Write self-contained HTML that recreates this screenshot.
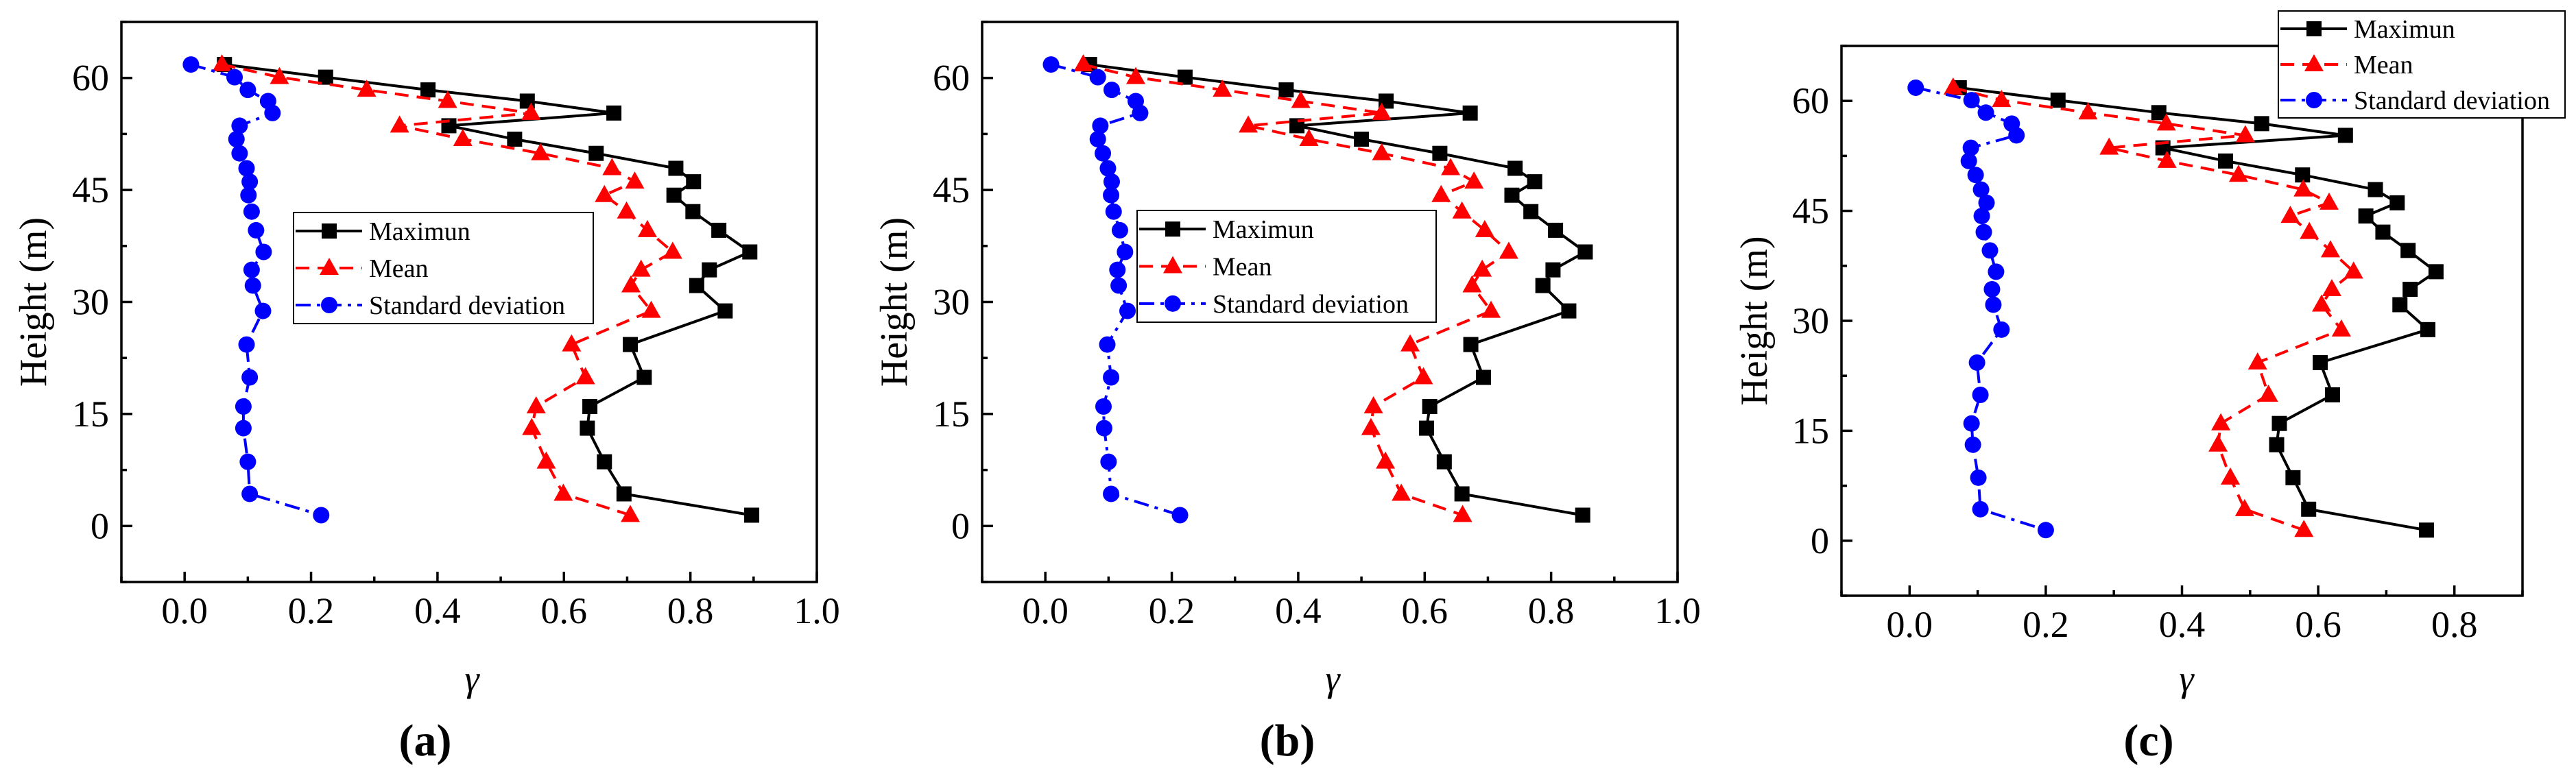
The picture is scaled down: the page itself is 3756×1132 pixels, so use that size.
<!DOCTYPE html>
<html>
<head>
<meta charset="utf-8">
<style>
html,body{margin:0;padding:0;background:#fff;}
svg{display:block;}
svg text{font-family:"Liberation Serif","Noto Serif CJK SC","DejaVu Serif",serif;}
</style>
</head>
<body>
<svg id="fig" width="3756" height="1132" viewBox="0 0 3756 1132" xmlns="http://www.w3.org/2000/svg"></svg>
<script>
const heights = [61.8,60.1,58.4,56.9,55.3,53.6,51.8,49.9,47.9,46.1,44.3,42.1,39.6,36.7,34.3,32.2,28.8,24.3,19.9,16.0,13.1,8.6,4.3,1.45];
const maxA = [0.063,0.223,0.385,0.542,0.679,0.418,0.522,0.651,0.777,0.805,0.774,0.804,0.845,0.894,0.830,0.810,0.855,0.705,0.727,0.641,0.637,0.664,0.695,0.897];
const meanA = [0.059,0.150,0.288,0.416,0.548,0.340,0.440,0.563,0.676,0.712,0.664,0.699,0.732,0.772,0.722,0.706,0.738,0.612,0.634,0.556,0.549,0.572,0.599,0.705];
const stdA = [0.010,0.079,0.100,0.132,0.139,0.087,0.082,0.087,0.098,0.103,0.101,0.106,0.113,0.125,0.106,0.108,0.124,0.098,0.103,0.093,0.093,0.100,0.103,0.216];
const maxB = [0.070,0.221,0.381,0.539,0.672,0.398,0.500,0.624,0.743,0.774,0.738,0.768,0.807,0.854,0.803,0.787,0.828,0.673,0.693,0.608,0.603,0.631,0.659,0.850];
const meanB = [0.060,0.143,0.280,0.404,0.532,0.321,0.417,0.532,0.641,0.678,0.626,0.659,0.695,0.733,0.691,0.675,0.705,0.577,0.598,0.519,0.515,0.538,0.563,0.660];
const stdB = [0.009,0.083,0.105,0.143,0.150,0.087,0.083,0.091,0.099,0.105,0.104,0.108,0.118,0.126,0.114,0.116,0.130,0.098,0.104,0.092,0.093,0.100,0.104,0.213];
const maxC = [0.073,0.218,0.366,0.517,0.640,0.372,0.464,0.577,0.684,0.716,0.670,0.695,0.732,0.773,0.735,0.720,0.761,0.603,0.621,0.543,0.539,0.563,0.586,0.759];
const meanC = [0.064,0.135,0.262,0.377,0.493,0.293,0.378,0.483,0.578,0.616,0.559,0.587,0.618,0.652,0.620,0.605,0.634,0.511,0.527,0.457,0.453,0.471,0.492,0.579];
const stdC = [0.009,0.091,0.112,0.150,0.157,0.090,0.087,0.097,0.105,0.113,0.106,0.109,0.118,0.127,0.121,0.123,0.135,0.099,0.104,0.091,0.093,0.101,0.104,0.200];
const xTicksAB = ["0.0","0.2","0.4","0.6","0.8","1.0"];
const xTicksC = ["0.0","0.2","0.4","0.6","0.8"];
const yTicks = ["0","15","30","45","60"];
const seriesNames = ["Maximun","Mean","Standard deviation"];

const NS="http://www.w3.org/2000/svg";
const svg=document.getElementById('fig');
function mk(tag,attrs,parent){const e=document.createElementNS(NS,tag);for(const k in attrs)e.setAttribute(k,attrs[k]);(parent||svg).appendChild(e);return e;}

const panels=[
 {id:'a',L:177,R:1191,T:32,B:849,xmin:-0.1,xmax:1.0,xt:xTicksAB,s:[maxA,meanA,stdA],ytx:49,lab:'(a)',labx:620,gx:688,leg:[428,310,865,472]},
 {id:'b',L:1432,R:2446,T:32,B:849,xmin:-0.1,xmax:1.0,xt:xTicksAB,s:[maxB,meanB,stdB],ytx:1304,lab:'(b)',labx:1877,gx:1943,leg:[1658,307,2094,470]},
 {id:'c',L:2685,R:3678,T:67,B:869,xmin:-0.1,xmax:0.9,xt:xTicksC,s:[maxC,meanC,stdC],ytx:2558,lab:'(c)',labx:3133,gx:3188,leg:[3322,16,3740,172]}
];
const styles=[
 {color:'#000',dash:'',marker:'square'},
 {color:'#ff0000',dash:'20,12',marker:'tri'},
 {color:'#0000ff',dash:'22,9,5,9',marker:'circle'}
];
function marker(g,type,x,y,color){
 let m;
 if(type==='square'){m=mk('rect',{x:x-11,y:y-11,width:22,height:22,fill:color},g);}
 else if(type==='tri'){m=mk('polygon',{points:`${x},${y-15} ${x-14},${y+10} ${x+14},${y+10}`,fill:color},g);}
 else {m=mk('circle',{cx:x,cy:y,r:12,fill:color},g);}
 return m;
}
panels.forEach(p=>{
 const g=mk('g',{});
 
 
 const sx=v=>p.L+(v-p.xmin)/(p.xmax-p.xmin)*(p.R-p.L);
 const sy=v=>p.B-(v-(-7.5))/75*(p.B-p.T);
 const fr=mk('rect',{x:p.L,y:p.T,width:p.R-p.L,height:p.B-p.T,fill:'none',stroke:'#000','stroke-width':3.5},g);
 
 
 const nx=Math.round((p.xmax-p.xmin)/0.1);
 for(let i=0;i<=nx;i++){
  const v=p.xmin+i*0.1; const X=sx(v);
  const major=Math.abs(Math.round(v*10)%2)===0;
  mk('line',{x1:X,y1:p.B,x2:X,y2:p.B-(major?15:8),stroke:'#000','stroke-width':3.5},g);
 }
 p.xt.forEach(t=>{
  const tx=mk('text',{x:sx(parseFloat(t)),y:p.B+60,'font-size':54,'text-anchor':'middle'},g);
  tx.textContent=t;
  
  
 });
 for(let v=-7.5;v<=67.5;v+=7.5){
  const Y=sy(v); const major=Math.abs(v%15)<0.01;
  mk('line',{x1:p.L,y1:Y,x2:p.L+(major?16:8),y2:Y,stroke:'#000','stroke-width':3.5},g);
 }
 yTicks.forEach(t=>{
  const tx=mk('text',{x:p.L-18,y:sy(parseFloat(t))+18,'font-size':54,'text-anchor':'end'},g);
  tx.textContent=t;
  
  
 });
 const yt=mk('text',{x:0,y:0,'font-size':56,'text-anchor':'middle',transform:`translate(${p.ytx+18},${(p.T+p.B)/2}) rotate(-90)`},g);
 yt.textContent='Height (m)';
 
 
 const xt=mk('text',{x:p.gx,y:1008,'font-size':54,'font-style':'italic','text-anchor':'middle'},g);
 xt.textContent='γ';
 
 
 const lb=mk('text',{x:p.labx,y:1102,'font-size':66,'font-weight':'bold','text-anchor':'middle'},g);
 lb.textContent=p.lab;
 
 
 p.s.forEach((arr,si)=>{
  const st=styles[si];
  const sg=mk('g',{},g);
  
  
  const pts=arr.map((v,i)=>sx(v)+','+sy(heights[i])).join(' ');
  const pl=mk('polyline',{points:pts,fill:'none',stroke:st.color,'stroke-width':4,'stroke-dasharray':st.dash,'stroke-linejoin':'miter'},sg);
  
  
  arr.forEach((v,i)=>{
   const m=marker(sg,st.marker,sx(v),sy(heights[i]),st.color);
   
   
  });
 });
 const [lx1,ly1,lx2,ly2]=p.leg;
 const lg=mk('g',{},g);
 
 
 mk('rect',{x:lx1,y:ly1,width:lx2-lx1,height:ly2-ly1,fill:'#fff',stroke:'#000','stroke-width':2},lg);
 const rh=(ly2-ly1)/3;
 seriesNames.forEach((n,i)=>{
  const st=styles[i];
  const cy=ly1+rh*(i+0.5);
  const e=mk('g',{},lg);
  
  
  mk('line',{x1:lx1+3,y1:cy,x2:lx1+100,y2:cy,stroke:st.color,'stroke-width':4,'stroke-dasharray':st.dash},e);
  marker(e,st.marker,lx1+52,cy,st.color);
  const t=mk('text',{x:lx1+110,y:cy+13,'font-size':38},e);
  t.textContent=n;
 });
});
</script>
</body>
</html>
